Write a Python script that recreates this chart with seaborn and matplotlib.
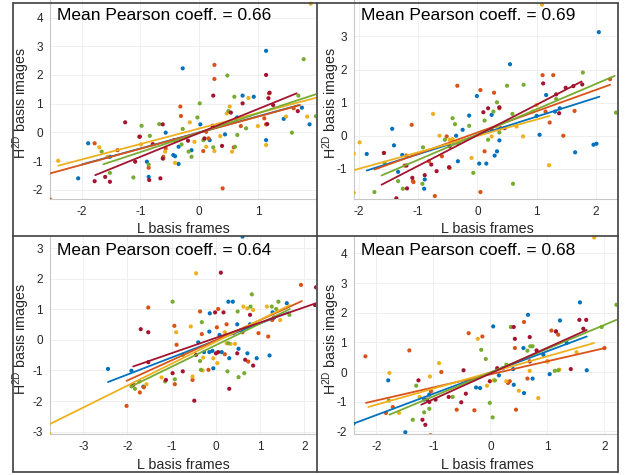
import matplotlib

matplotlib.use("Agg")
import matplotlib.pyplot as plt
import numpy as np
import pandas as pd
import seaborn as sns
from matplotlib.lines import Line2D

# ---- data (x = L basis frames, y = H2D basis images) ----
GROUPS = ["blue", "orange", "yellow", "green", "red"]
PALETTE = {"blue": "#0072BD", "orange": "#D95319", "yellow": "#EDB120",
           "green": "#77AC30", "red": "#A2142F"}
COEFFS = ["0.66", "0.69", "0.64", "0.68"]

# top-left panel
TL_BLUE = [(-2.06, -1.60), (-1.89, -0.38), (-1.52, -0.85), (-0.89, -1.02), (-0.86, -1.55),
           (-0.57, -0.01), (-0.44, -0.79), (-0.41, -0.83), (-0.35, -1.10), (-0.28, 2.23),
           (-0.35, -0.50), (-0.13, -0.62), (0.02, 0.28), (0.18, -0.27), (0.44, -0.07),
           (0.65, 0.52), (0.74, 1.28), (0.93, 1.24), (1.14, 2.84), (1.14, -0.27),
           (1.44, 0.47), (1.75, 0.86), (1.88, 0.28)]
TL_ORANGE = [(-2.54, -2.34), (-1.78, -0.38), (-1.39, -0.62), (-1.02, -0.15), (-0.86, -1.23),
             (-0.57, -0.56), (-0.43, -0.27), (-0.31, 0.57), (-0.32, 0.90), (0.07, -0.65),
             (0.12, 0.02), (0.26, 2.35), (0.26, 1.86), (0.40, -1.95), (0.59, -0.52),
             (0.71, 0.22), (1.11, 0.49), (1.14, 0.28), (1.19, 1.36), (1.61, 0.84),
             (0.16, -0.21), (-0.61, -0.85)]
TL_YELLOW = [(-2.40, -0.99), (-1.70, -0.52), (-1.56, -0.85), (-0.99, -0.42), (-0.58, -0.67),
             (-0.41, -1.06), (-0.16, 0.35), (-0.08, -0.33), (0.09, -0.24), (0.12, -0.50),
             (0.26, -0.65), (0.36, -0.13), (0.52, 0.90), (0.56, -0.67), (0.84, 1.20),
             (1.00, 0.22), (1.14, -0.44), (1.48, 0.55), (1.84, 0.55), (1.90, 4.48), (0.47, 0.66)]
TL_GREEN = [(-1.66, -0.67), (-1.52, -1.41), (-1.12, -1.57), (-0.98, 0.23), (-0.86, -1.12),
            (-0.84, -0.12), (-0.68, 0.29), (-0.61, -0.91), (-0.30, -0.42), (-0.28, 0.12),
            (-0.18, -0.67), (-0.13, -0.85), (-0.03, 0.52), (0.01, 1.01), (0.07, -0.27),
            (0.24, -0.52), (0.48, 1.98), (0.50, 0.74), (0.60, 1.24), (0.61, -0.50),
            (0.65, -0.09), (0.80, 0.14), (1.58, -0.01), (1.69, 1.28), (1.78, 2.55), (1.99, 0.56)]
TL_RED = [(-1.78, -1.70), (-1.60, -1.55), (-1.52, -1.72), (-1.26, 0.35), (-1.09, -1.02),
          (-1.01, -0.15), (-0.85, -1.66), (-0.79, -0.41), (-0.66, -1.60), (-0.62, 0.28),
          (-0.62, -0.91), (-0.19, -0.29), (0.09, -0.21), (0.23, 0.23), (0.24, 1.28),
          (0.39, -0.47), (0.54, 0.69), (0.63, 0.47), (0.74, 1.01), (1.14, 2.00),
          (1.18, 1.19), (1.16, 0.29), (1.26, 0.95), (1.68, 0.74), (1.20, 1.38)]
TL_FITS = {"blue": (-2.00, -1.12, 1.70, 0.95), "orange": (-2.54, -1.43, 1.72, 0.95),
           "yellow": (-2.40, -1.16, 1.98, 1.20), "green": (-1.63, -1.11, 1.99, 1.33),
           "red": (-1.77, -1.49, 1.66, 1.36)}

# top-right panel
TR_BLUE = [(-1.87, -0.55), (-1.44, 0.21), (-1.41, -0.29), (-1.34, -1.09), (-1.27, -0.58),
           (-0.89, -1.32), (-0.90, -1.60), (-0.36, 0.00), (-0.33, -0.77), (-0.25, 0.18),
           (-0.14, 0.61), (-0.01, 1.20), (0.03, -0.84), (0.15, -0.84), (0.24, 0.63),
           (0.29, -0.60), (0.33, -0.47), (0.37, -0.14), (0.55, 2.16), (1.00, 0.60),
           (1.16, 1.23), (1.31, 0.73), (1.39, 0.83), (1.96, -0.27), (2.01, -0.24),
           (1.65, -0.50), (2.05, 3.13), (1.05, 0.03)]
TR_ORANGE = [(-1.58, -0.52), (-1.11, 0.33), (-1.20, -0.60), (-1.23, -0.90), (-1.09, -1.37),
             (-1.08, -1.40), (-0.82, -0.77), (-0.60, -0.62), (-0.52, -0.02), (-0.47, -0.97),
             (-0.34, 1.51), (0.05, 1.38), (0.05, -1.70), (0.12, -0.47), (0.28, 1.30),
             (0.37, 0.83), (0.39, 0.23), (1.10, 1.83), (1.22, 0.40), (1.28, 1.83),
             (1.45, 0.00), (1.64, 0.75), (2.24, 1.71), (-0.72, -1.82), (1.15, 0.73)]
TR_YELLOW = [(-1.99, -0.20), (-2.09, -0.54), (-2.09, -1.72), (-0.75, 0.66), (-0.64, 0.00),
             (-0.42, -0.10), (-0.10, -0.67), (0.24, -0.02), (0.32, 0.28), (0.66, 0.28),
             (0.77, -0.02), (0.93, 0.73), (1.21, -0.89), (1.09, 3.96), (1.00, 0.93), (-0.47, -0.12)]
TR_GREEN = [(-1.74, -1.70), (-1.57, -0.82), (-1.34, -1.37), (-1.26, -1.60), (-0.92, -0.35),
            (-0.93, -1.45), (-0.55, -0.12), (-0.42, 0.53), (-0.38, 0.35), (-0.14, 0.30),
            (-0.07, -1.12), (0.12, 0.46), (0.18, -0.12), (0.27, 0.73), (0.33, 1.01),
            (0.37, 0.10), (0.50, 1.51), (0.59, 0.66), (0.60, -1.45), (0.78, 1.54),
            (1.33, 1.11), (1.78, 1.91), (2.34, 0.70), (-0.33, -0.22)]
TR_RED = [(-1.58, -0.52), (-1.20, -0.90), (-1.19, -1.59), (-1.10, -1.27), (-0.89, -1.19),
          (-0.78, -0.87), (-0.69, -1.07), (-0.48, -0.95), (0.10, 0.71), (0.18, 0.83),
          (0.37, 0.86), (0.46, 0.23), (1.11, 1.58), (1.33, 1.25), (1.38, 0.68),
          (1.49, 1.45), (1.62, 1.50), (1.77, 1.55), (0.24, 0.18), (-0.47, -0.32), (-1.37, -1.89)]
TR_FITS = {"blue": (-1.87, -1.05, 2.06, 1.18), "orange": (-1.74, -1.02, 2.24, 1.54),
           "yellow": (-2.09, -1.04, 1.22, 0.60), "green": (-1.62, -1.20, 2.32, 1.81),
           "red": (-1.62, -1.48, 1.76, 1.64)}

# bottom-left panel
BL_BLUE = [(-2.44, -0.95), (-1.91, -1.01), (-1.64, -1.53), (-0.40, -0.08), (-0.15, -0.40),
           (-0.14, 0.87), (-0.08, -0.36), (-0.06, -0.93), (0.08, 0.16), (0.13, -0.40),
           (0.28, 1.25), (0.30, -0.60), (0.38, 1.25), (0.48, 0.51), (0.51, -0.29),
           (0.60, 3.38), (0.71, -0.44), (0.92, -0.60), (1.21, -0.51), (1.60, 1.20),
           (1.28, 0.90), (0.77, 0.51), (-0.15, 0.27), (-0.27, -0.40)]
BL_ORANGE = [(-2.02, -2.16), (-1.72, -1.72), (-1.63, -1.55), (-1.53, 1.06), (-0.93, -1.45),
             (-0.94, 0.46), (-0.53, -1.31), (-0.36, 0.93), (-0.32, 0.19), (-0.17, -0.98),
             (0.02, 0.41), (0.05, 1.01), (0.20, -0.47), (0.24, 0.51), (0.60, 0.25),
             (0.73, -0.71), (0.96, 0.22), (1.18, 0.11), (1.27, 0.65), (1.92, 1.80),
             (-0.89, -0.16), (0.39, 0.22)]
BL_YELLOW = [(-3.76, -3.08), (-1.57, -1.45), (-1.23, -1.23), (-0.90, 0.25), (-0.57, 0.44),
             (-0.53, -1.20), (-0.45, 2.18), (-0.29, -0.58), (-0.06, -0.60), (0.03, -0.76),
             (0.24, -0.11), (0.33, -0.13), (0.43, -0.13), (0.62, 1.09), (0.71, 1.03),
             (0.84, 0.98), (1.15, 1.09), (1.45, 0.65), (-0.30, -1.00), (0.20, 0.25)]
BL_GREEN = [(-1.91, -1.52), (-1.83, -1.60), (-1.73, -1.36), (-1.15, -1.36), (-0.98, 1.25),
            (-0.93, -1.29), (-0.75, -0.49), (-0.36, -0.69), (-0.34, -0.98), (-0.32, 0.58),
            (0.28, -0.11), (0.49, 0.93), (0.51, -1.22), (0.64, -1.09), (0.78, 1.09),
            (0.81, 1.49), (1.26, 1.09), (1.36, 1.01), (1.41, 1.25), (1.66, 0.82), (0.26, -1.03)]
BL_RED = [(-1.87, -1.47), (-1.70, 0.35), (-1.53, 0.25), (-1.53, -0.73), (-1.13, -1.31),
          (-0.98, -1.09), (-0.75, -1.03), (-0.49, -1.99), (-0.45, -0.49), (-0.02, 0.90),
          (0.00, -0.44), (0.05, -0.40), (0.11, 2.20), (0.17, 0.90), (0.30, -1.60),
          (0.48, -0.44), (0.66, -0.65), (0.77, 0.82), (0.84, -0.84), (1.31, 0.73),
          (2.26, 1.72), (2.24, 1.14)]
BL_FITS = {"blue": (-2.44, -1.38, 1.64, 0.90), "orange": (-2.02, -1.34, 1.94, 1.27),
           "yellow": (-3.76, -2.76, 1.67, 1.14), "green": (-1.91, -1.52, 1.67, 1.01),
           "red": (-1.87, -0.87, 2.26, 1.20)}

# bottom-right panel
BR_BLUE = [(-2.40, -1.74), (-1.79, -0.28), (-1.49, -2.03), (-1.16, -0.93), (-1.07, -0.76),
           (-0.25, -0.52), (-0.18, -0.54), (0.05, 1.54), (0.15, -0.11), (0.22, 0.13),
           (0.40, 0.10), (0.41, -0.43), (0.58, 0.81), (0.59, -0.71), (0.66, 1.93),
           (0.74, -0.22), (1.04, -0.07), (1.22, 1.74), (1.34, 0.98), (1.57, 2.35),
           (1.69, 0.06), (0.93, 0.58)]
BR_ORANGE = [(-2.19, 0.53), (-1.83, -1.38), (-1.71, -1.18), (-1.42, 0.73), (-0.86, 0.00),
             (-1.04, -0.65), (-0.59, -1.27), (-0.38, 1.31), (-0.28, -1.29), (-0.14, 1.20),
             (0.31, -0.37), (0.34, -0.31), (0.43, 0.81), (0.45, -1.27), (0.59, 1.69),
             (0.65, -0.22), (1.00, 0.36), (1.07, 1.40), (1.15, 1.37), (1.19, 1.26),
             (2.00, 0.81), (-1.05, -2.13)]
BR_YELLOW = [(-1.77, -0.03), (-1.60, -1.38), (-1.24, -0.84), (-1.06, -0.15), (-0.90, 0.30),
             (-0.36, -0.28), (-0.22, 1.12), (-0.06, -0.46), (0.06, -0.28), (0.28, -0.31),
             (0.50, -0.63), (0.69, 0.04), (0.84, -0.88), (1.00, 0.36), (1.21, 0.08),
             (1.51, 0.67), (1.82, 4.54)]
BR_GREEN = [(-1.78, -0.96), (-1.30, -0.46), (-1.36, -1.61), (-1.16, -1.36), (-1.07, -1.24),
            (-0.66, -0.84), (-0.16, 0.75), (-0.08, 0.44), (-0.01, -1.04), (0.04, -1.53),
            (0.08, -0.28), (0.36, 1.52), (0.65, 0.72), (0.70, 0.87), (0.74, 0.87),
            (1.13, 0.04), (1.95, 1.52), (2.21, 2.27), (1.19, 0.06), (0.28, 0.25)]
BR_RED = [(-1.26, -0.28), (-1.19, -1.61), (-1.14, -1.78), (-1.11, -0.93), (-1.07, -1.01),
          (-0.96, -0.93), (-0.73, -0.84), (-0.51, -1.02), (-0.47, 0.06), (-0.43, -0.73),
          (-0.01, -0.31), (0.12, 0.13), (0.41, 1.52), (0.43, 1.12), (0.69, 1.18),
          (0.69, 0.36), (0.81, 0.73), (1.15, 1.37), (1.41, 0.10), (1.56, 1.76),
          (1.63, 1.46), (1.68, 1.76)]
BR_FITS = {"blue": (-2.40, -1.74, 1.69, 1.20), "orange": (-2.18, -1.04, 2.01, 0.81),
           "yellow": (-2.14, -1.18, 1.82, 0.98), "green": (-1.77, -1.44, 2.21, 1.76),
           "red": (-1.21, -1.10, 1.69, 1.42)}

XLIMS = [(-2.54, 1.99), (-2.085, 2.357), (-3.75, 2.26), (-2.39, 2.22)]
YLIMS = [(-2.32, 4.61), (-1.91, 4.10), (-3.08, 3.40), (-2.09, 4.59)]
XTICKS = [[-2, -1, 0, 1], [-2, -1, 0, 1, 2], [-3, -2, -1, 0, 1, 2], [-2, -1, 0, 1, 2]]
YTICKS = [[-2, -1, 0, 1, 2, 3, 4], [-1, 0, 1, 2, 3], [-3, -2, -1, 0, 1, 2, 3], [-2, -1, 0, 1, 2, 3, 4]]

PANELS = [
    [TL_BLUE, TL_ORANGE, TL_YELLOW, TL_GREEN, TL_RED],
    [TR_BLUE, TR_ORANGE, TR_YELLOW, TR_GREEN, TR_RED],
    [BL_BLUE, BL_ORANGE, BL_YELLOW, BL_GREEN, BL_RED],
    [BR_BLUE, BR_ORANGE, BR_YELLOW, BR_GREEN, BR_RED],
]
FITS = [TL_FITS, TR_FITS, BL_FITS, BR_FITS]

sns.set_theme(style="whitegrid")
plt.rcParams["font.family"] = ["Liberation Sans", "DejaVu Sans"]
plt.rcParams["mathtext.fontset"] = "custom"
plt.rcParams["mathtext.rm"] = "Liberation Sans"
plt.rcParams["axes.unicode_minus"] = False

W, H = 627, 475
fig = plt.figure(figsize=(W / 100, H / 100), dpi=100, facecolor="white")

# pixel boxes (left, top, right, bottom) of the four axes
BOXES = [(50, 0, 316, 199), (354, 0, 617, 199), (50, 236, 316, 434), (354, 236, 617, 434)]
TEXT_COLOR = "#262626"

for i, (l, t, r, b) in enumerate(BOXES):
    ax = fig.add_axes([l / W, 1 - b / H, (r - l) / W, (b - t) / H])
    ax.set_facecolor("white")

    pts = pd.DataFrame(
        [(x, y, g) for g, grp in zip(GROUPS, PANELS[i]) for x, y in grp],
        columns=["x", "y", "group"],
    )
    fit = pd.DataFrame(
        [(v[0], v[1], g) for g, v in FITS[i].items()] + [(v[2], v[3], g) for g, v in FITS[i].items()],
        columns=["x", "y", "group"],
    )
    sns.scatterplot(data=pts, x="x", y="y", hue="group", hue_order=GROUPS, palette=PALETTE,
                    s=9, linewidth=0, legend=False, ax=ax, zorder=3)
    sns.lineplot(data=fit, x="x", y="y", hue="group", hue_order=GROUPS, palette=PALETTE,
                 linewidth=1.3, legend=False, ax=ax, zorder=4, estimator=None)

    ax.set_xlim(*XLIMS[i])
    ax.set_ylim(*YLIMS[i])
    ax.set_xticks(XTICKS[i])
    ax.set_yticks(YTICKS[i])
    ax.set_xlabel("")
    ax.set_ylabel("")
    ax.grid(True, color="#ececec", linewidth=0.6)
    for side in ["top", "right"]:
        ax.spines[side].set_visible(False)
    for side in ["left", "bottom"]:
        ax.spines[side].set_color("#c8c8c8")
        ax.spines[side].set_linewidth(0.8)
    ax.tick_params(axis="both", direction="out", length=3, width=0.6, color="#c8c8c8",
                   labelsize=8.5, labelcolor=TEXT_COLOR, pad=2)

    ox = 0 if l < 300 else 304
    oy = 0 if t < 100 else 236
    fig.text((57 + ox) / W, 1 - (15 + oy) / H, f"Mean Pearson coeff. = {COEFFS[i]}",
             fontsize=12.5, color="black", ha="left", va="center")
    fig.text((183 + ox) / W, 1 - (229 + oy) / H, "L basis frames",
             fontsize=10.3, color=TEXT_COLOR, ha="center", va="center")
    fig.text((21 + ox + (6 if ox else 0)) / W, 1 - (103 + oy) / H, r"H$^{\rm 2D}$ basis images",
             fontsize=10.3, color=TEXT_COLOR, ha="center", va="center", rotation=90)

# panel frame lines
frame_kw = dict(color="#404040", linewidth=1.2, transform=fig.transFigure, zorder=10)
for xs, ys in [((13, 618), (3, 3)), ((13, 618), (472, 472)), ((13, 13), (3, 472)),
               ((618, 618), (3, 472)), ((317, 317), (3, 472)), ((13, 618), (236, 236))]:
    fig.lines.append(Line2D([x / W for x in xs], [1 - y / H for y in ys], **frame_kw))

fig.savefig("out.png", dpi=100, facecolor="white")
